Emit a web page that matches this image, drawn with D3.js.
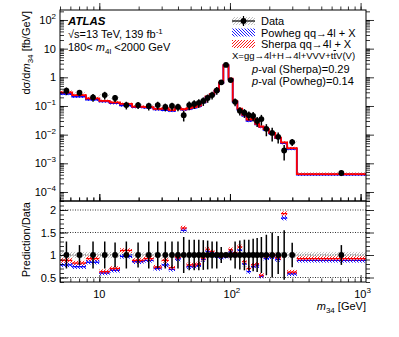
<!DOCTYPE html>
<html>
<head>
<meta charset="utf-8">
<script src="https://d3js.org/d3.v7.min.js"></script>
<style>
  body { margin: 0; background: #fff; }
  text { font-family: "Liberation Sans", Arial, sans-serif; fill: #000; }
</style>
</head>
<body>
<svg id="chart" width="399" height="337"></svg>
<script>
// m34 bin edges [GeV]
var binEdges = [5, 6.2, 7.9, 10, 12, 14.4, 17.8, 21.8, 26, 30, 34, 38, 42, 46.5, 51, 55.5, 60, 65, 70, 76,
                82.5, 89, 97.5, 105, 114, 124, 134, 145, 156, 167, 181, 199, 222, 246, 274, 325, 1100];
// measured dsigma/dm34 [fb/GeV]
var dataXsec = [0.34, 0.29, 0.20, 0.24, 0.19, 0.108, 0.108, 0.10, 0.108, 0.093, 0.10, 0.093, 0.048, 0.108,
                0.118, 0.129, 0.15, 0.19, 0.24, 0.35, 0.67, 2.7, 0.80, 0.14, 0.068, 0.058, 0.048, 0.045,
                0.030, 0.035, 0.016, 0.0115, 0.0084, 0.0028, 0.0055, 0.00046];
var dataRelErr = [0.30, 0.22, 0.30, 0.30, 0.28, 0.30, 0.28, 0.30, 0.30, 0.30, 0.30, 0.30, 0.40, 0.34, 0.34,
                  0.34, 0.33, 0.32, 0.30, 0.30, 0.18, 0.04, 0.12, 0.30, 0.32, 0.34, 0.34, 0.36, 0.38, 0.40,
                  0.45, 0.50, 0.42, 0.55, 0.27, 0.22];
var dataSystRel = 0.07;
// Prediction / Data
var sherpaRatio = [0.88, 0.82, 0.92, 0.63, 0.70, 1.10, 0.88, 0.92, 0.73, 0.88, 0.72, 0.95, 1.60, 0.78, 0.78,
                   0.80, 0.93, 1.13, 1.08, 1.00, 0.98, 0.99, 1.12, 1.05, 1.18, 0.85, 0.70, 0.78, 0.80, 0.55,
                   0.97, 1.00, 0.94, 1.92, 0.62, 0.92];
var powhegRatio = [0.78, 0.74, 0.84, 0.60, 0.66, 0.97, 0.85, 0.88, 0.70, 0.78, 0.68, 0.91, 1.55, 0.74, 0.75,
                   0.77, 0.90, 1.08, 1.04, 0.96, 0.94, 0.97, 1.07, 1.00, 1.11, 0.80, 0.63, 0.74, 0.76, 0.53,
                   0.92, 0.96, 0.90, 1.82, 0.58, 0.88];
var predRelUnc = 0.05;

var yTickVals = [1e-4, 1e-3, 1e-2, 1e-1, 1, 10, 100];
var yTickBase = ["10", "10", "10", "10", "1", "10", "10"];
var yTickExp  = ["\u22124", "\u22123", "\u22122", "\u22121", "", "", "2"];
var xTickVals = [10, 100, 1000];
var xTickBase = ["10", "10", "10"];
var xTickExp  = ["", "2", "3"];
var rTickVals = [0.5, 1, 1.5, 2];
var rTickLabels = ["0.5", "1", "1.5", "2"];

var bins = dataXsec.map(function(v, i) {
  return { lo: binEdges[i], hi: binEdges[i + 1], mid: (binEdges[i] + binEdges[i + 1]) / 2,
           v: v, err: dataRelErr[i], rs: sherpaRatio[i], rp: powhegRatio[i] };
});

var L = 60, R = 366, T = 10, B1 = 201, B2 = 282;
var svg = d3.select("#chart");

var x = d3.scaleLog().domain([5, 1100]).range([L, R]);
var y = d3.scaleLog().domain([4.85e-5, 223]).range([B1, T]);
var yr = d3.scaleLinear().domain([0.4, 2.2]).range([B2, B1]);

// hatch patterns
var defs = svg.append("defs");
function hatch(id, color, dir, w) {
  var p = defs.append("pattern").attr("id", id).attr("patternUnits", "userSpaceOnUse")
    .attr("width", 3).attr("height", 3);
  var d = dir > 0 ? "M-1,1 l2,-2 M0,3 l3,-3 M2,4 l2,-2" : "M-1,2 l2,2 M0,0 l3,3 M2,-1 l2,2";
  p.append("path").attr("d", d).attr("stroke", color).attr("stroke-width", w);
}
hatch("hRed", "#ff0000", 1, 0.9);
hatch("hBlue", "#0000ff", -1, 0.9);
hatch("hGray", "#999", 1, 0.6);
defs.append("clipPath").attr("id", "clipTop").append("rect").attr("x", L).attr("y", T).attr("width", R - L).attr("height", B1 - T);
defs.append("clipPath").attr("id", "clipBot").append("rect").attr("x", L).attr("y", B1).attr("width", R - L).attr("height", B2 - B1);

// ---------- upper panel ----------
var upperG = svg.append("g").attr("clip-path", "url(#clipTop)");

upperG.selectAll("rect.sys").data(bins).enter().append("rect")
  .attr("x", function(d) { return x(d.lo); })
  .attr("width", function(d) { return x(d.hi) - x(d.lo); })
  .attr("y", function(d) { return y(d.v * (1 + dataSystRel)); })
  .attr("height", function(d) { return y(d.v * (1 - dataSystRel)) - y(d.v * (1 + dataSystRel)); })
  .attr("fill", "url(#hGray)");

function stepPts(key) {
  var pts = [];
  bins.forEach(function(d) { pts.push([d.lo, d.v * d[key]]); pts.push([d.hi, d.v * d[key]]); });
  return pts;
}
var line = d3.line().x(function(p) { return x(p[0]); }).y(function(p) { return y(p[1]); });

[["rp", "#0000ff", "url(#hBlue)"], ["rs", "#ff0000", "url(#hRed)"]].forEach(function(s) {
  upperG.selectAll(null).data(bins).enter().append("rect")
    .attr("x", function(d) { return x(d.lo); })
    .attr("width", function(d) { return x(d.hi) - x(d.lo); })
    .attr("y", function(d) { return y(d.v * d[s[0]] * (1 + 2 * predRelUnc)); })
    .attr("height", function(d) { return y(d.v * d[s[0]] * (1 - 2 * predRelUnc)) - y(d.v * d[s[0]] * (1 + 2 * predRelUnc)); })
    .attr("fill", s[2]);
  upperG.append("path").attr("d", line(stepPts(s[0]))).attr("fill", "none")
    .attr("stroke", s[1]).attr("stroke-width", 1.8);
});

upperG.selectAll("line.err").data(bins).enter().append("line")
  .attr("x1", function(d) { return x(d.mid); }).attr("x2", function(d) { return x(d.mid); })
  .attr("y1", function(d) { return y(d.v * (1 + d.err)); })
  .attr("y2", function(d) { return y(d.v * (1 - d.err)); })
  .attr("stroke", "#000").attr("stroke-width", 1.5);
upperG.selectAll("circle").data(bins).enter().append("circle")
  .attr("cx", function(d) { return x(d.mid); }).attr("cy", function(d) { return y(d.v); })
  .attr("r", 2.9).attr("fill", "#000");

// ---------- ratio panel ----------
var lowerG = svg.append("g").attr("clip-path", "url(#clipBot)");
lowerG.selectAll("line.grid").data(rTickVals).enter().append("line")
  .attr("x1", L).attr("x2", R).attr("y1", function(d) { return yr(d); }).attr("y2", function(d) { return yr(d); })
  .attr("stroke", "#000").attr("stroke-width", 0.8).attr("stroke-dasharray", "1,1.5");

lowerG.selectAll("rect.sys").data(bins).enter().append("rect")
  .attr("x", function(d) { return x(d.lo); })
  .attr("width", function(d) { return x(d.hi) - x(d.lo); })
  .attr("y", yr(1 + dataSystRel)).attr("height", yr(1 - dataSystRel) - yr(1 + dataSystRel))
  .attr("fill", "url(#hGray)");

[["rp", "#0000ff", "url(#hBlue)"], ["rs", "#ff0000", "url(#hRed)"]].forEach(function(s) {
  lowerG.selectAll(null).data(bins).enter().append("rect")
    .attr("x", function(d) { return x(d.lo); })
    .attr("width", function(d) { return x(d.hi) - x(d.lo); })
    .attr("y", function(d) { return yr(d[s[0]] + predRelUnc); })
    .attr("height", function(d) { return yr(d[s[0]] - predRelUnc) - yr(d[s[0]] + predRelUnc); })
    .attr("fill", s[2]);
  lowerG.selectAll(null).data(bins).enter().append("line")
    .attr("x1", function(d) { return x(d.lo); }).attr("x2", function(d) { return x(d.hi); })
    .attr("y1", function(d) { return yr(d[s[0]]); }).attr("y2", function(d) { return yr(d[s[0]]); })
    .attr("stroke", s[1]).attr("stroke-width", 1.3);
});

lowerG.selectAll("line.err").data(bins).enter().append("line")
  .attr("x1", function(d) { return x(d.mid); }).attr("x2", function(d) { return x(d.mid); })
  .attr("y1", function(d) { return yr(1 + d.err); }).attr("y2", function(d) { return yr(1 - d.err); })
  .attr("stroke", "#000").attr("stroke-width", 1.5);
lowerG.selectAll("circle").data(bins).enter().append("circle")
  .attr("cx", function(d) { return x(d.mid); }).attr("cy", yr(1))
  .attr("r", 2.9).attr("fill", "#000");

// ---------- axes ----------
function logMinor(lo, hi) {
  var out = [];
  for (var e = -6; e <= 4; e++) for (var k = 1; k <= 9; k++) {
    var v = k * Math.pow(10, e);
    if (v >= lo && v <= hi) out.push(v);
  }
  return out;
}
function noDomain(g) { g.select(".domain").remove(); g.selectAll("line").attr("stroke-width", 0.8); }

var xMinor = logMinor(5, 1100);
[[B1, -1], [T, 1], [B1, 1], [B2, -1]].forEach(function(a) {
  var mk = function() { return a[1] < 0 ? d3.axisBottom(x) : d3.axisTop(x); };
  svg.append("g").attr("transform", "translate(0," + a[0] + ")")
    .call(mk().tickValues(xMinor).tickSize(a[1] * 3.5).tickFormat("")).call(noDomain);
  svg.append("g").attr("transform", "translate(0," + a[0] + ")")
    .call(mk().tickValues(xTickVals).tickSize(a[1] * 7).tickFormat("")).call(noDomain);
});

var yMinor = logMinor(4.85e-5, 223);
[[L, -1], [R, 1]].forEach(function(a) {
  var mk = function() { return a[1] < 0 ? d3.axisLeft(y) : d3.axisRight(y); };
  svg.append("g").attr("transform", "translate(" + a[0] + ",0)")
    .call(mk().tickValues(yMinor).tickSize(a[1] * 4).tickFormat("")).call(noDomain);
  svg.append("g").attr("transform", "translate(" + a[0] + ",0)")
    .call(mk().tickValues(yTickVals).tickSize(a[1] * 8).tickFormat("")).call(noDomain);
  var mr = function() { return a[1] < 0 ? d3.axisLeft(yr) : d3.axisRight(yr); };
  svg.append("g").attr("transform", "translate(" + a[0] + ",0)")
    .call(mr().tickValues(d3.range(0.4, 2.21, 0.1)).tickSize(a[1] * 4).tickFormat("")).call(noDomain);
  svg.append("g").attr("transform", "translate(" + a[0] + ",0)")
    .call(mr().tickValues(rTickVals).tickSize(a[1] * 8).tickFormat("")).call(noDomain);
});

svg.append("rect").attr("x", L).attr("y", T).attr("width", R - L).attr("height", B1 - T)
  .attr("fill", "none").attr("stroke", "#000").attr("stroke-width", 1);
svg.append("rect").attr("x", L).attr("y", B1).attr("width", R - L).attr("height", B2 - B1)
  .attr("fill", "none").attr("stroke", "#000").attr("stroke-width", 1);

function powLabel(g, base, exp, px, py, anchor) {
  var t = g.append("text").attr("x", px).attr("y", py).attr("text-anchor", anchor).style("font-size", "11px").text(base);
  if (exp) t.append("tspan").attr("dy", -5).style("font-size", "8px").text(exp);
  return t;
}
yTickVals.forEach(function(v, i) { powLabel(svg, yTickBase[i], yTickExp[i], 56, y(v) + 4, "end"); });
xTickVals.forEach(function(v, i) { powLabel(svg, xTickBase[i], xTickExp[i], x(v) + (xTickExp[i] ? 2 : 0), 298, "middle"); });
rTickVals.forEach(function(v, i) {
  svg.append("text").attr("x", 56).attr("y", yr(v) + 4).attr("text-anchor", "end").style("font-size", "11px").text(rTickLabels[i]);
});

// axis titles
var yt = svg.append("text").attr("transform", "translate(30,11) rotate(-90)").attr("text-anchor", "end").style("font-size", "11px");
yt.append("tspan").text("d\u03c3/d");
yt.append("tspan").style("font-style", "italic").text("m");
yt.append("tspan").attr("dy", 3).style("font-size", "8px").text("34");
yt.append("tspan").attr("dy", -3).text(" [fb/GeV]");
svg.append("text").attr("transform", "translate(30,202) rotate(-90)").attr("text-anchor", "end")
  .style("font-size", "11px").text("Prediction/Data");
var xt = svg.append("text").attr("x", 366).attr("y", 310).attr("text-anchor", "end").style("font-size", "11px");
xt.append("tspan").style("font-style", "italic").text("m");
xt.append("tspan").attr("dy", 3).style("font-size", "8px").text("34");
xt.append("tspan").attr("dy", -3).text(" [GeV]");

// ATLAS labels
svg.append("text").attr("x", 68).attr("y", 25).style("font-size", "11.5px").style("font-weight", "bold")
  .style("font-style", "italic").text("ATLAS");
var l2 = svg.append("text").attr("x", 68).attr("y", 38).style("font-size", "11px");
l2.append("tspan").text("\u221as=13 TeV, 139 fb");
l2.append("tspan").attr("dy", -4).style("font-size", "8px").text("-1");
var l3 = svg.append("text").attr("x", 68).attr("y", 51).style("font-size", "11px");
l3.append("tspan").text("180< ");
l3.append("tspan").style("font-style", "italic").text("m");
l3.append("tspan").attr("dy", 3).style("font-size", "8px").text("4l");
l3.append("tspan").attr("dy", -3).text(" <2000 GeV");

// legend
var lg = svg.append("g");
var rows = [[21, "url(#hGray)", "Data"], [32.5, "url(#hBlue)", "Powheg qq\u21924l + X"], [44, "url(#hRed)", "Sherpa qq\u21924l + X"]];
rows.forEach(function(r) {
  lg.append("rect").attr("x", 232).attr("y", r[0] - 4).attr("width", 23).attr("height", 8).attr("fill", r[1]);
  lg.append("text").attr("x", 261).attr("y", r[0] + 4).style("font-size", "11px").text(r[2]);
});
lg.append("line").attr("x1", 232).attr("x2", 255).attr("y1", 21).attr("y2", 21).attr("stroke", "#000").attr("stroke-width", 1.2);
lg.append("line").attr("x1", 243.5).attr("x2", 243.5).attr("y1", 16).attr("y2", 26).attr("stroke", "#000").attr("stroke-width", 1.2);
lg.append("circle").attr("cx", 243.5).attr("cy", 21).attr("r", 2.9).attr("fill", "#000");
var xl = lg.append("text").attr("x", 232).attr("y", 59).style("font-size", "9.5px");
xl.append("tspan").text("X=gg\u21924l+H\u21924l+VVV+t");
xl.append("tspan").style("text-decoration", "overline").text("t");
xl.append("tspan").text("V(V)");
[[73, "(Sherpa)=0.29"], [85, "(Powheg)=0.14"]].forEach(function(p) {
  var t = lg.append("text").attr("x", 252).attr("y", p[0]).style("font-size", "11px");
  t.append("tspan").style("font-style", "italic").text("p");
  t.append("tspan").text("-val " + p[1]);
});
</script>
</body>
</html>
